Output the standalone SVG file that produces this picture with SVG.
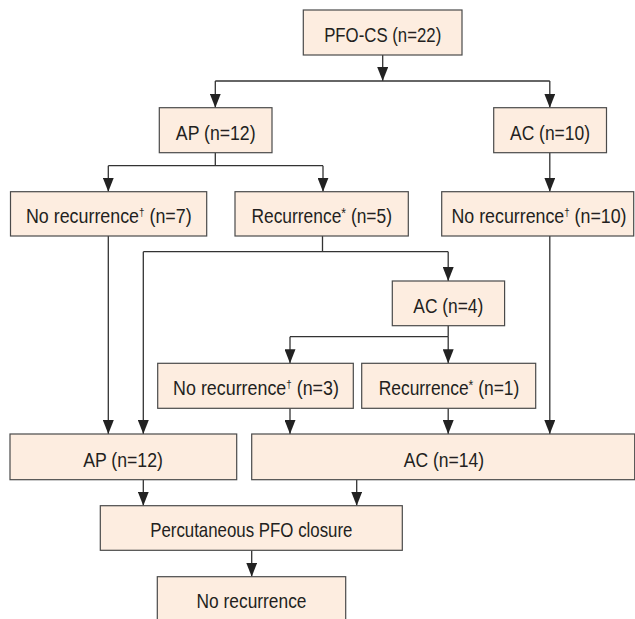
<svg xmlns="http://www.w3.org/2000/svg" width="635" height="619" viewBox="0 0 635 619">
<style>
.box{fill:#fdede0;stroke:#4a4a4a;stroke-width:1.2}
.lbl{font-family:"Liberation Sans",Arial,sans-serif;font-size:20px;fill:#231f20;text-anchor:middle}
.sup{font-size:11px}
.ast{font-size:14px}
.con{fill:none;stroke:#333;stroke-width:1.3}
</style>
<defs>
<marker id="arr" viewBox="0 0 11 14" refX="5.5" refY="14" markerWidth="11" markerHeight="14" markerUnits="userSpaceOnUse" orient="0">
<path d="M0,0 L11,0 L5.5,14 z" fill="#222"/>
</marker>
</defs>
<rect width="635" height="619" fill="#ffffff"/>
<g id="connectors">
<path class="con" d="M382.7,55 V81" marker-end="url(#arr)"/>
<path class="con" d="M215.3,81 H549.8"/>
<path class="con" d="M215.3,81 V107.7" marker-end="url(#arr)"/>
<path class="con" d="M549.8,81 V107.7" marker-end="url(#arr)"/>
<path class="con" d="M215.3,152.7 V165.7 M108.3,165.7 H323"/>
<path class="con" d="M108.3,165.7 V191.7" marker-end="url(#arr)"/>
<path class="con" d="M323,165.7 V191.7" marker-end="url(#arr)"/>
<path class="con" d="M549.8,152.7 V191.7" marker-end="url(#arr)"/>
<path class="con" d="M322.5,236 V251.7 M143.3,251.7 H448.2"/>
<path class="con" d="M448.2,251.7 V281" marker-end="url(#arr)"/>
<path class="con" d="M143.3,251.7 V434" marker-end="url(#arr)"/>
<path class="con" d="M108.3,236 V434" marker-end="url(#arr)"/>
<path class="con" d="M448.2,325.7 V336.7 M290,336.7 H448.2"/>
<path class="con" d="M290,336.7 V363.3" marker-end="url(#arr)"/>
<path class="con" d="M448.2,336.7 V363.3" marker-end="url(#arr)"/>
<path class="con" d="M290,408.3 V434" marker-end="url(#arr)"/>
<path class="con" d="M448.2,408.3 V434" marker-end="url(#arr)"/>
<path class="con" d="M549.8,236 V434" marker-end="url(#arr)"/>
<path class="con" d="M143.3,479.7 V505.7" marker-end="url(#arr)"/>
<path class="con" d="M356.7,479.7 V505.7" marker-end="url(#arr)"/>
<path class="con" d="M251.7,550.3 V576.7" marker-end="url(#arr)"/>
</g>
<g id="n-pfocs"><rect class="box" x="303.3" y="10" width="158.7" height="45"/><text class="lbl" transform="translate(382.7,41.8) scale(0.84,1)">PFO-CS (n=22)</text></g>
<g id="n-ap1"><rect class="box" x="159.3" y="107.7" width="112.7" height="45"/><text class="lbl" transform="translate(215.7,139.5) scale(0.883,1)">AP (n=12)</text></g>
<g id="n-ac1"><rect class="box" x="493.7" y="107.7" width="112.8" height="45"/><text class="lbl" transform="translate(550,139.5) scale(0.872,1)">AC (n=10)</text></g>
<g id="n-norec7"><rect class="box" x="10.5" y="191.7" width="196.2" height="44.3"/><text class="lbl" transform="translate(108.8,223.2) scale(0.893,1)">No recurrence<tspan class="sup" dy="-7">†</tspan><tspan dy="7"> (n=7)</tspan></text></g>
<g id="n-rec5"><rect class="box" x="235" y="191.7" width="173.3" height="44.3"/><text class="lbl" transform="translate(321.7,223.2) scale(0.87,1)">Recurrence<tspan class="ast" dy="-5">*</tspan><tspan dy="5"> (n=5)</tspan></text></g>
<g id="n-norec10"><rect class="box" x="441.7" y="191.7" width="192" height="44.3"/><text class="lbl" transform="translate(539,223.2) scale(0.89,1)">No recurrence<tspan class="sup" dy="-7">†</tspan><tspan dy="7"> (n=10)</tspan></text></g>
<g id="n-ac4"><rect class="box" x="392.3" y="281" width="112.3" height="44.7"/><text class="lbl" transform="translate(448.3,312.6) scale(0.869,1)">AC (n=4)</text></g>
<g id="n-norec3"><rect class="box" x="157.7" y="363.3" width="195.6" height="45"/><text class="lbl" transform="translate(256,395) scale(0.894,1)">No recurrence<tspan class="sup" dy="-7">†</tspan><tspan dy="7"> (n=3)</tspan></text></g>
<g id="n-rec1"><rect class="box" x="361.7" y="363.3" width="174" height="45"/><text class="lbl" transform="translate(449,395) scale(0.87,1)">Recurrence<tspan class="ast" dy="-5">*</tspan><tspan dy="5"> (n=1)</tspan></text></g>
<g id="n-ap2"><rect class="box" x="10" y="434" width="226.7" height="45.7"/><text class="lbl" transform="translate(123,466.6) scale(0.883,1)">AP (n=12)</text></g>
<g id="n-ac14"><rect class="box" x="251.7" y="434" width="383" height="45.7"/><text class="lbl" transform="translate(444,466.8) scale(0.876,1)">AC (n=14)</text></g>
<g id="n-pfoc"><rect class="box" x="100.3" y="505.7" width="302" height="44.6"/><text class="lbl" transform="translate(251.3,537.3) scale(0.843,1)">Percutaneous PFO closure</text></g>
<g id="n-norec"><rect class="box" x="157.3" y="576.7" width="188.4" height="50"/><text class="lbl" transform="translate(251.5,608.3) scale(0.868,1)">No recurrence</text></g>
</svg>
